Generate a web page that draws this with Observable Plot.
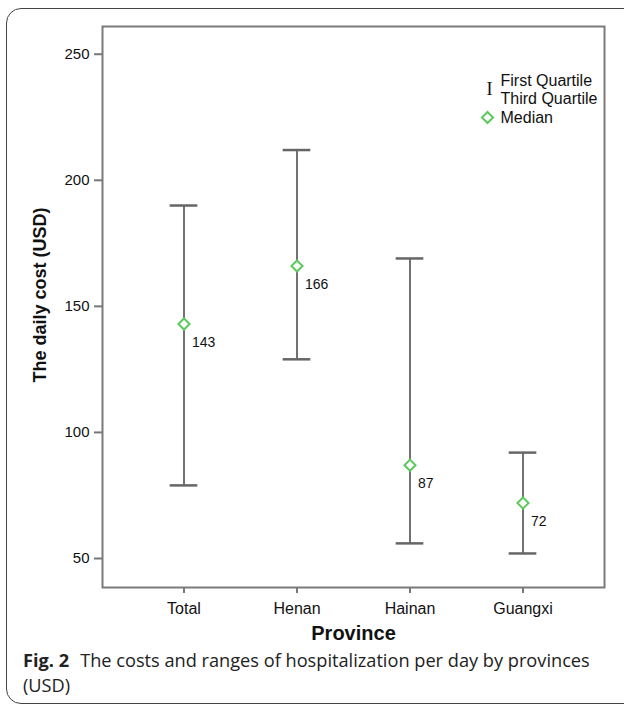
<!DOCTYPE html>
<html>
<head>
<meta charset="utf-8">
<script src="https://cdn.jsdelivr.net/npm/d3@7"></script>
<script src="https://cdn.jsdelivr.net/npm/@observablehq/plot@0.6"></script>
<style>
  html, body { margin: 0; padding: 0; background: #fff; overflow: hidden; }
  #wrap { position: relative; width: 624px; height: 706px; overflow: hidden; }
  #border { position: absolute; left: 6px; top: 8px; width: 720px; height: 696px;
            border: 1.3px solid #444; border-radius: 15px; box-sizing: border-box; }
  #chart { position: absolute; left: 0; top: 0; }
  #caption { position: absolute; left: 23px; top: 648px; width: 600px;
             font-family: "Open Sans", sans-serif; font-size: 18.2px; line-height: 25px; color: #222; }
  #caption div { white-space: nowrap; }
  #caption b { font-weight: 700; margin-right: 11px; }
</style>
</head>
<body>
<div id="wrap">
  <div id="border"></div>
  <div id="chart"></div>
  <div id="caption">
    <div><b>Fig. 2</b><span>The costs and ranges of hospitalization per day by provinces</span></div>
    <div><span>(USD)</span></div>
  </div>
</div>
<script>
const provinces = ["Total", "Henan", "Hainan", "Guangxi"];
const q1 = [79, 129, 56, 52];
const q3 = [190, 212, 169, 92];
const median = [143, 166, 87, 72];
const yTicks = [50, 100, 150, 200, 250];
const xTitle = "Province";
const yTitle = "The daily cost (USD)";
const legendQuartiles = "First Quartile\nThird Quartile";
const legendMedian = "Median";

const data = provinces.map((p, i) => ({province: p, q1: q1[i], q3: q3[i], median: median[i]}));

const W = 624, H = 645;
const mL = 102, mR = 20, mT = 26, mB = H - 587;
const innerW = W - mL - mR;
const po = 0.215;
const step = innerW / (provinces.length + 2 * po);
const capInset = (step - 28) / 2;
const font = "'Liberation Sans', Arial, sans-serif";
const green = "#5cc95c";

const chart = Plot.plot({
  width: W, height: H,
  marginLeft: mL, marginRight: mR, marginTop: mT, marginBottom: mB,
  style: {fontFamily: font, color: "#111", background: "transparent"},
  x: {type: "band", domain: provinces, paddingInner: 0, paddingOuter: po},
  y: {domain: [38.5, 261]},
  marks: [
    Plot.axisY({ticks: yTicks, tickSize: 8, tickPadding: 5, fontSize: 15, stroke: "#777", strokeWidth: 2, label: null}),
    Plot.axisX({tickSize: 6, tickPadding: 9, fontSize: 16, stroke: "#777", strokeWidth: 2, label: null}),
    Plot.frame({stroke: "#7a7a7a", strokeWidth: 2}),
    Plot.ruleX(data, {x: "province", y1: "q1", y2: "q3", stroke: "#727272", strokeWidth: 2}),
    Plot.tickY(data, {x: "province", y: "q1", stroke: "#666", strokeWidth: 2.5, insetLeft: capInset, insetRight: capInset}),
    Plot.tickY(data, {x: "province", y: "q3", stroke: "#666", strokeWidth: 2.5, insetLeft: capInset, insetRight: capInset}),
    Plot.dot(data, {x: "province", y: "median", symbol: "diamond2", r: 5, stroke: green, strokeWidth: 2, fill: "white"}),
    Plot.text(data, {x: "province", y: "median", text: d => String(d.median), dx: 8, dy: 18, textAnchor: "start", fontSize: 14, fill: "#111"}),
    // legend
    Plot.text([legendQuartiles], {frameAnchor: "top-left", dx: 398, dy: 63, text: d => d, textAnchor: "start", lineAnchor: "middle", fontSize: 16, lineHeight: 1.12, fill: "#111"}),
    Plot.text(["I"], {frameAnchor: "top-left", dx: 387, dy: 63, text: d => d, textAnchor: "middle", lineAnchor: "middle", fontFamily: "'Liberation Serif', serif", fontSize: 18, fill: "#111"}),
    Plot.dot([0], {frameAnchor: "top-left", dx: 385, dy: 91, symbol: "diamond2", r: 5, stroke: green, strokeWidth: 2, fill: "white"}),
    Plot.text([legendMedian], {frameAnchor: "top-left", dx: 398, dy: 91, text: d => d, textAnchor: "start", lineAnchor: "middle", fontSize: 16, fill: "#111"}),
    // axis titles
    Plot.text([xTitle], {frameAnchor: "bottom", dy: 46, text: d => d, textAnchor: "middle", lineAnchor: "middle", fontSize: 20, fontWeight: "bold", fill: "#111", style: {letterSpacing: "0.5px"}}),
    Plot.text([yTitle], {frameAnchor: "left", dx: -62, dy: -12, rotate: -90, text: d => d, textAnchor: "middle", lineAnchor: "middle", fontSize: 18, fontWeight: "bold", fill: "#111"})
  ]
});
document.getElementById("chart").appendChild(chart);
</script>
</body>
</html>
